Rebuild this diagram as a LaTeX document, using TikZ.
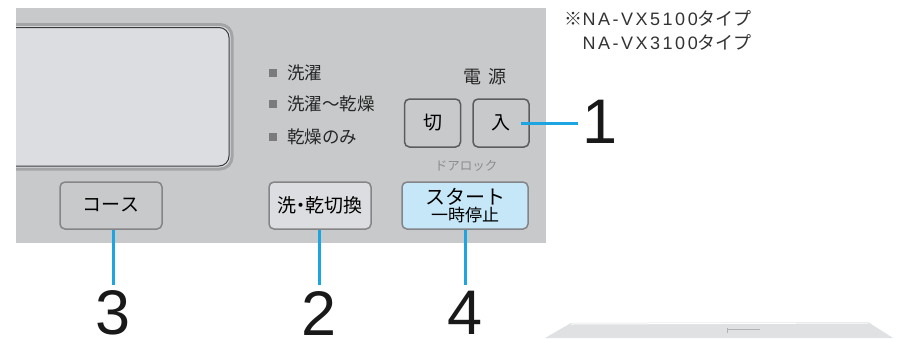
\documentclass[tikz,border=0pt]{standalone}
\usepackage{fontspec}
\setmainfont{Noto Sans CJK JP}
\newfontfamily\digitfont{Liberation Sans}
\newfontfamily\notefont[LetterSpace=14]{Liberation Sans}
\usetikzlibrary{positioning}

\definecolor{panelgray}{HTML}{C8C9CB}
\definecolor{screen}{HTML}{DCDDE0}
\definecolor{screenrim}{HTML}{A3A4A6}
\definecolor{screenline}{HTML}{3A3A3C}
\definecolor{btnedge}{HTML}{858587}
\definecolor{pwredge}{HTML}{5C5C5E}
\definecolor{startblue}{HTML}{C6E7F7}
\definecolor{leadblue}{HTML}{1DA5E2}
\definecolor{lampgray}{HTML}{7B7B7D}
\definecolor{machine}{HTML}{E0E1E3}

\tikzset{
    btn/.style={draw=btnedge, line width=1.5pt, rounded corners=5pt, fill=panelgray,
        minimum height=47pt, inner sep=0pt, font=\fontsize{19}{21}\selectfont},
    pwrbtn/.style={btn, draw=pwredge, minimum width=56pt, minimum height=48pt},
    lead/.style={draw=leadblue, line width=3pt},
    num/.style={inner sep=0pt, font=\digitfont\fontsize{63}{63}\selectfont, text=black!90},
    lamp/.style={fill=lampgray, minimum size=8pt, inner sep=0pt},
    lamptext/.style={anchor=west, inner sep=0pt, font=\fontsize{17.5}{19}\selectfont, text=black!85},
    notetext/.style={anchor=east, inner sep=0pt, font=\fontsize{18}{20}\selectfont, text=black!80},
}

\begin{document}
\begin{tikzpicture}[x=1pt, y=-1pt]
    \useasboundingbox (0,0) rectangle (915,338);

    % panel and display
    \fill[panelgray] (16,8) rectangle (546,243);
    \begin{scope}
        \clip (16,8) rectangle (546,243);
        \draw[draw=screenrim, line width=3pt, rounded corners=12pt, fill=screen] (-30,24.5) rectangle (232,169);
        \draw[draw=screenline, line width=1pt, rounded corners=10pt] (-30,27.5) rectangle (229,166);
    \end{scope}

    % lamps
    \node [lamp] (L1) at (273,73) {};
    \node [lamp] (L2) at (273,104) {};
    \node [lamp] (L3) at (273,137) {};
    \node [lamptext] (T1) at (287,73) {洗濯};
    \node [lamptext] (T2) at (287,104) {洗濯～乾燥};
    \node [lamptext] (T3) at (287,137) {乾燥のみ};

    % power
    \node [inner sep=0pt, font=\fontsize{18}{20}\selectfont, text=black!85] (power) at (485,77) {電\hspace{0.35em}源};
    \node [pwrbtn] (off) at (432.5,123) {切};
    \node [pwrbtn] (on) at (501,123) {入};
    \node [inner sep=0pt, font=\fontsize{12.5}{14}\selectfont, text=black!45] (lock) at (466,166) {ドアロック};

    % buttons
    \node [btn, minimum width=102pt] (course) at (111,205.5) {コース};
    \node [btn, minimum width=102pt, fill=screen] (switch) at (320,205.5) {洗\hspace{-0.28em}・\hspace{-0.28em}乾切換};
    \node [btn, minimum width=126pt, fill=startblue, align=center] (start) at (465,205.5)
        {{\fontsize{20}{20}\selectfont スタート}\\[-4pt]{\fontsize{17}{17}\selectfont 一時停止}};

    % note
    \node [notetext] (note1) at (752,18) {※{\notefont NA-VX5100}タイプ};
    \node [notetext] (note2) at (752,42) {{\notefont NA-VX3100}タイプ};

    % numbers
    \node [num] (n1) at (600.5,122) {1};
    \node [num] (n2) at (319,313) {2};
    \node [num] (n3) at (113,313) {3};
    \node [num] (n4) at (465,313) {4};

    \draw [lead] ([xshift=-9pt]on.east) -- ([xshift=-5pt,yshift=-1pt]n1.west);
    \draw [lead] ([xshift=2pt]course.south) -- ([yshift=6pt]n3.north);
    \draw [lead] ([xshift=-1pt]switch.south) -- ([yshift=6pt]n2.north);
    \draw [lead] (start.south) -- ([yshift=6pt]n4.north);

    % machine top, bottom right
    \fill[machine] (545,338) -- (571,323) -- (868,322) -- (893,338) -- cycle;
    \draw[white, line width=1pt] (571,324) -- (868,323);
    \draw[black!30, line width=0.6pt] (727,328) -- (727,333) (727,329) -- (760,329);
\end{tikzpicture}
\end{document}
